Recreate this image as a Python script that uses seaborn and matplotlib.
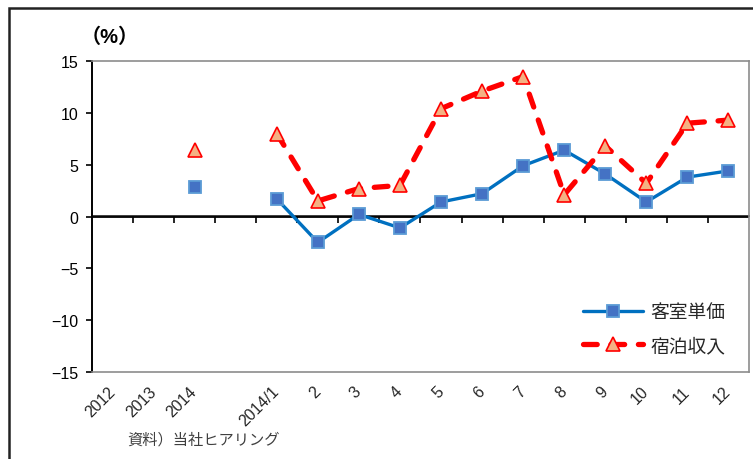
import numpy as np
import pandas as pd
import matplotlib
matplotlib.use("Agg")
import matplotlib.pyplot as plt
from matplotlib.lines import Line2D
from matplotlib.patches import Rectangle
import seaborn as sns

# Categories: three annual values, a spacer slot, then the months of 2014
categories = ["2012", "2013", "2014", "", "2014/1", "2", "3", "4", "5", "6",
              "7", "8", "9", "10", "11", "12"]
# Segment id per category (annual block and monthly block are not connected)
segments = [0, 0, 0, None, 1, 1, 1, 1, 1, 1, 1, 1, 1, 1, 1, 1]

room_rate = [None, None, 2.8, None, 1.7, -2.5, 0.2, -1.1, 1.4, 2.2,
             4.9, 6.4, 4.1, 1.4, 3.8, 4.4]
lodging_revenue = [None, None, 6.4, None, 8.0, 1.5, 2.7, 3.0, 10.4, 12.1,
                   13.5, 2.1, 6.8, 3.2, 9.0, 9.3]

series_names = ["客室単価", "宿泊収入"]
y_ticks = [-15, -10, -5, 0, 5, 10, 15]

sns.set_theme(style="white")
plt.rcParams["font.family"] = ["Liberation Sans", "Noto Sans CJK JP", "DejaVu Sans"]
plt.rcParams["axes.unicode_minus"] = True

rows = []
for i, (seg, a, b) in enumerate(zip(segments, room_rate, lodging_revenue)):
    if seg is None:
        continue
    if a is not None:
        rows.append({"pos": i, "value": a, "series": series_names[0], "seg": seg})
    if b is not None:
        rows.append({"pos": i, "value": b, "series": series_names[1], "seg": seg})
df = pd.DataFrame(rows)

fig = plt.figure(figsize=(7.53, 4.60), dpi=100)
ax = fig.add_axes([92 / 753, 87 / 460, 657 / 753, 311 / 460])

blue_style = dict(color="#0070C0", linewidth=2.4, marker="s", markersize=8.2,
                  markerfacecolor="#4472C4", markeredgecolor="#5B9BD5",
                  markeredgewidth=1.3)
red_style = dict(color="#FF0000", linewidth=3.8, linestyle=(0, (2.6, 2.6)),
                 dash_capstyle="round", marker="^", markersize=10.5,
                 markerfacecolor="#F4B183", markeredgecolor="#FF0000",
                 markeredgewidth=1.2)

sns.lineplot(data=df[df["series"] == series_names[0]], x="pos", y="value",
             units="seg", estimator=None, sort=False, ax=ax, legend=False,
             zorder=3, **blue_style)
sns.lineplot(data=df[df["series"] == series_names[1]], x="pos", y="value",
             units="seg", estimator=None, sort=False, ax=ax, legend=False,
             zorder=4, **red_style)

n = len(categories)
ax.set_xlim(-0.5, n - 0.5)
ax.set_ylim(-15, 15)
ax.set_xlabel("")
ax.set_ylabel("")

# Category labels along the bottom, rotated
ax.set_xticks(range(n))
ax.set_xticklabels(categories, rotation=45, ha="right", va="center",
                   rotation_mode="anchor", fontsize=11.5)
ax.tick_params(axis="x", length=0, pad=12)

ax.set_yticks(y_ticks)
ax.set_yticklabels([str(v).replace("-", "\u2212") for v in y_ticks], fontsize=11.5)
ax.tick_params(axis="y", direction="out", length=4, width=1.2, pad=6,
               left=True, colors="black")

for side in ["top", "right", "bottom"]:
    ax.spines[side].set_color("#8C8C8C")
    ax.spines[side].set_linewidth(1.2)
ax.spines["left"].set_color("black")
ax.spines["left"].set_linewidth(1.4)

# Zero line with category-boundary tick marks
ax.axhline(0, color="black", linewidth=1.3, zorder=2)
zero_axis = ax.secondary_xaxis(0.5)
zero_axis.set_xticks(np.arange(0.5, n - 0.5, 1.0))
zero_axis.set_xticklabels([])
zero_axis.tick_params(direction="in", length=5, width=1.2, color="black")
zero_axis.spines["bottom"].set_visible(False)

# Unit label
fig.text(81 / 753, 1 - 37 / 460, "（%）", fontsize=14.5, fontweight="bold",
         ha="left", va="center", color="black")

# Source note
fig.text(127 / 753, 1 - 440 / 460, "資料）当社ヒアリング", fontsize=11,
         ha="left", va="center", color="#404040")

# Legend
handles = [Line2D([], [], **blue_style), Line2D([], [], **red_style)]
leg = fig.legend(handles, series_names, loc="upper left",
                 bbox_to_anchor=(583 / 753, 1 - 305 / 460),
                 bbox_transform=fig.transFigure, frameon=False,
                 fontsize=13.5, handlelength=3.2, handletextpad=0.4,
                 labelspacing=0.85, borderpad=0, borderaxespad=0)

# Outer frame
fig.add_artist(Rectangle((9 / 753, -0.2), 1.2, 1.2 - 9 / 460,
                         transform=fig.transFigure, fill=False,
                         edgecolor="#222222", linewidth=1.8))

fig.savefig("out.png", dpi=100)
